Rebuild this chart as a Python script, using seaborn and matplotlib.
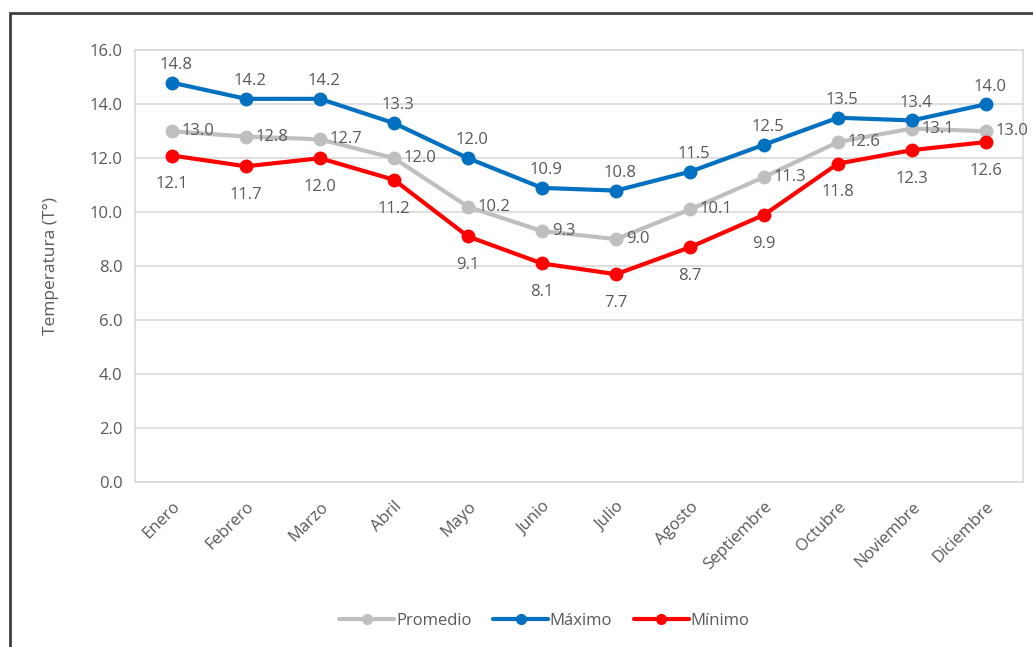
import matplotlib
matplotlib.use("Agg")
import matplotlib.pyplot as plt
from matplotlib.patches import Rectangle
from matplotlib.lines import Line2D
import pandas as pd
import seaborn as sns

meses = ["Enero", "Febrero", "Marzo", "Abril", "Mayo", "Junio", "Julio",
         "Agosto", "Septiembre", "Octubre", "Noviembre", "Diciembre"]
promedio = [13.0, 12.8, 12.7, 12.0, 10.2, 9.3, 9.0, 10.1, 11.3, 12.6, 13.1, 13.0]
maximo = [14.8, 14.2, 14.2, 13.3, 12.0, 10.9, 10.8, 11.5, 12.5, 13.5, 13.4, 14.0]
minimo = [12.1, 11.7, 12.0, 11.2, 9.1, 8.1, 7.7, 8.7, 9.9, 11.8, 12.3, 12.6]
series = ["Promedio", "Máximo", "Mínimo"]
colores = ["#BFBFBF", "#0070C0", "#FF0000"]
y_ticks = [0, 2, 4, 6, 8, 10, 12, 14, 16]

df = pd.DataFrame({
    "Mes": meses * 3,
    "x": list(range(len(meses))) * 3,
    "Temperatura": promedio + maximo + minimo,
    "Serie": sum([[s] * len(meses) for s in series], []),
})

sns.set_theme(style="white")
plt.rcParams["font.family"] = ["Open Sans", "DejaVu Sans"]
texto = "#595959"
fs = 12

fig = plt.figure(figsize=(10.33, 6.47), dpi=100)
ax = fig.add_axes([0.1307, 0.255, 0.8596, 0.6673])

sns.lineplot(data=df, x="x", y="Temperatura", hue="Serie", hue_order=series,
             palette=colores, marker="o", markersize=10, markeredgewidth=0,
             linewidth=3, ax=ax, legend=False)

# value labels: average to the right, max above, min below
for xi, v in enumerate(promedio):
    ax.annotate(f"{v:.1f}", (xi, v), xytext=(7, 0), textcoords="offset points",
                ha="left", va="center", fontsize=fs, color=texto)
for xi, v in enumerate(maximo):
    ax.annotate(f"{v:.1f}", (xi, v), xytext=(3, 7), textcoords="offset points",
                ha="center", va="bottom", fontsize=fs, color=texto)
for xi, v in enumerate(minimo):
    ax.annotate(f"{v:.1f}", (xi, v), xytext=(0, -15), textcoords="offset points",
                ha="center", va="top", fontsize=fs, color=texto)

ax.set_xlim(-0.5, len(meses) - 0.5)
ax.set_ylim(0, 16)
ax.set_yticks(y_ticks)
ax.set_yticklabels([f"{t:.1f}" for t in y_ticks], fontsize=fs, color=texto)
ax.set_xticks(range(len(meses)))
ax.set_xticklabels(meses, rotation=45, ha="right", rotation_mode="anchor",
                   fontsize=fs, color=texto)
ax.tick_params(axis="y", length=0, pad=9)
ax.tick_params(axis="x", length=0, pad=12)
ax.set_xlabel("")
ax.set_ylabel("Temperatura (T°)", fontsize=fs + 0.5, color=texto, labelpad=22)
ax.grid(axis="y", color="#D9D9D9", linewidth=1.2)
for sp in ax.spines.values():
    sp.set_color("#D9D9D9")
    sp.set_linewidth(1.2)

handles = [Line2D([], [], color=c, linewidth=3, marker="o", markersize=8,
                  markeredgewidth=0) for c in colores]
leg = fig.legend(handles, series, loc="center", bbox_to_anchor=(0.527, 0.04),
                 ncol=3, frameon=False, fontsize=fs, handlelength=3.3,
                 handletextpad=0.1, columnspacing=1.3)
for t in leg.get_texts():
    t.set_color(texto)

fig.patches.append(Rectangle((10 / 1033, -0.05), 1.1, 1.05 - 13 / 647,
                             transform=fig.transFigure, fill=False,
                             edgecolor="#404040", linewidth=2))

fig.savefig("out.png", dpi=100)
